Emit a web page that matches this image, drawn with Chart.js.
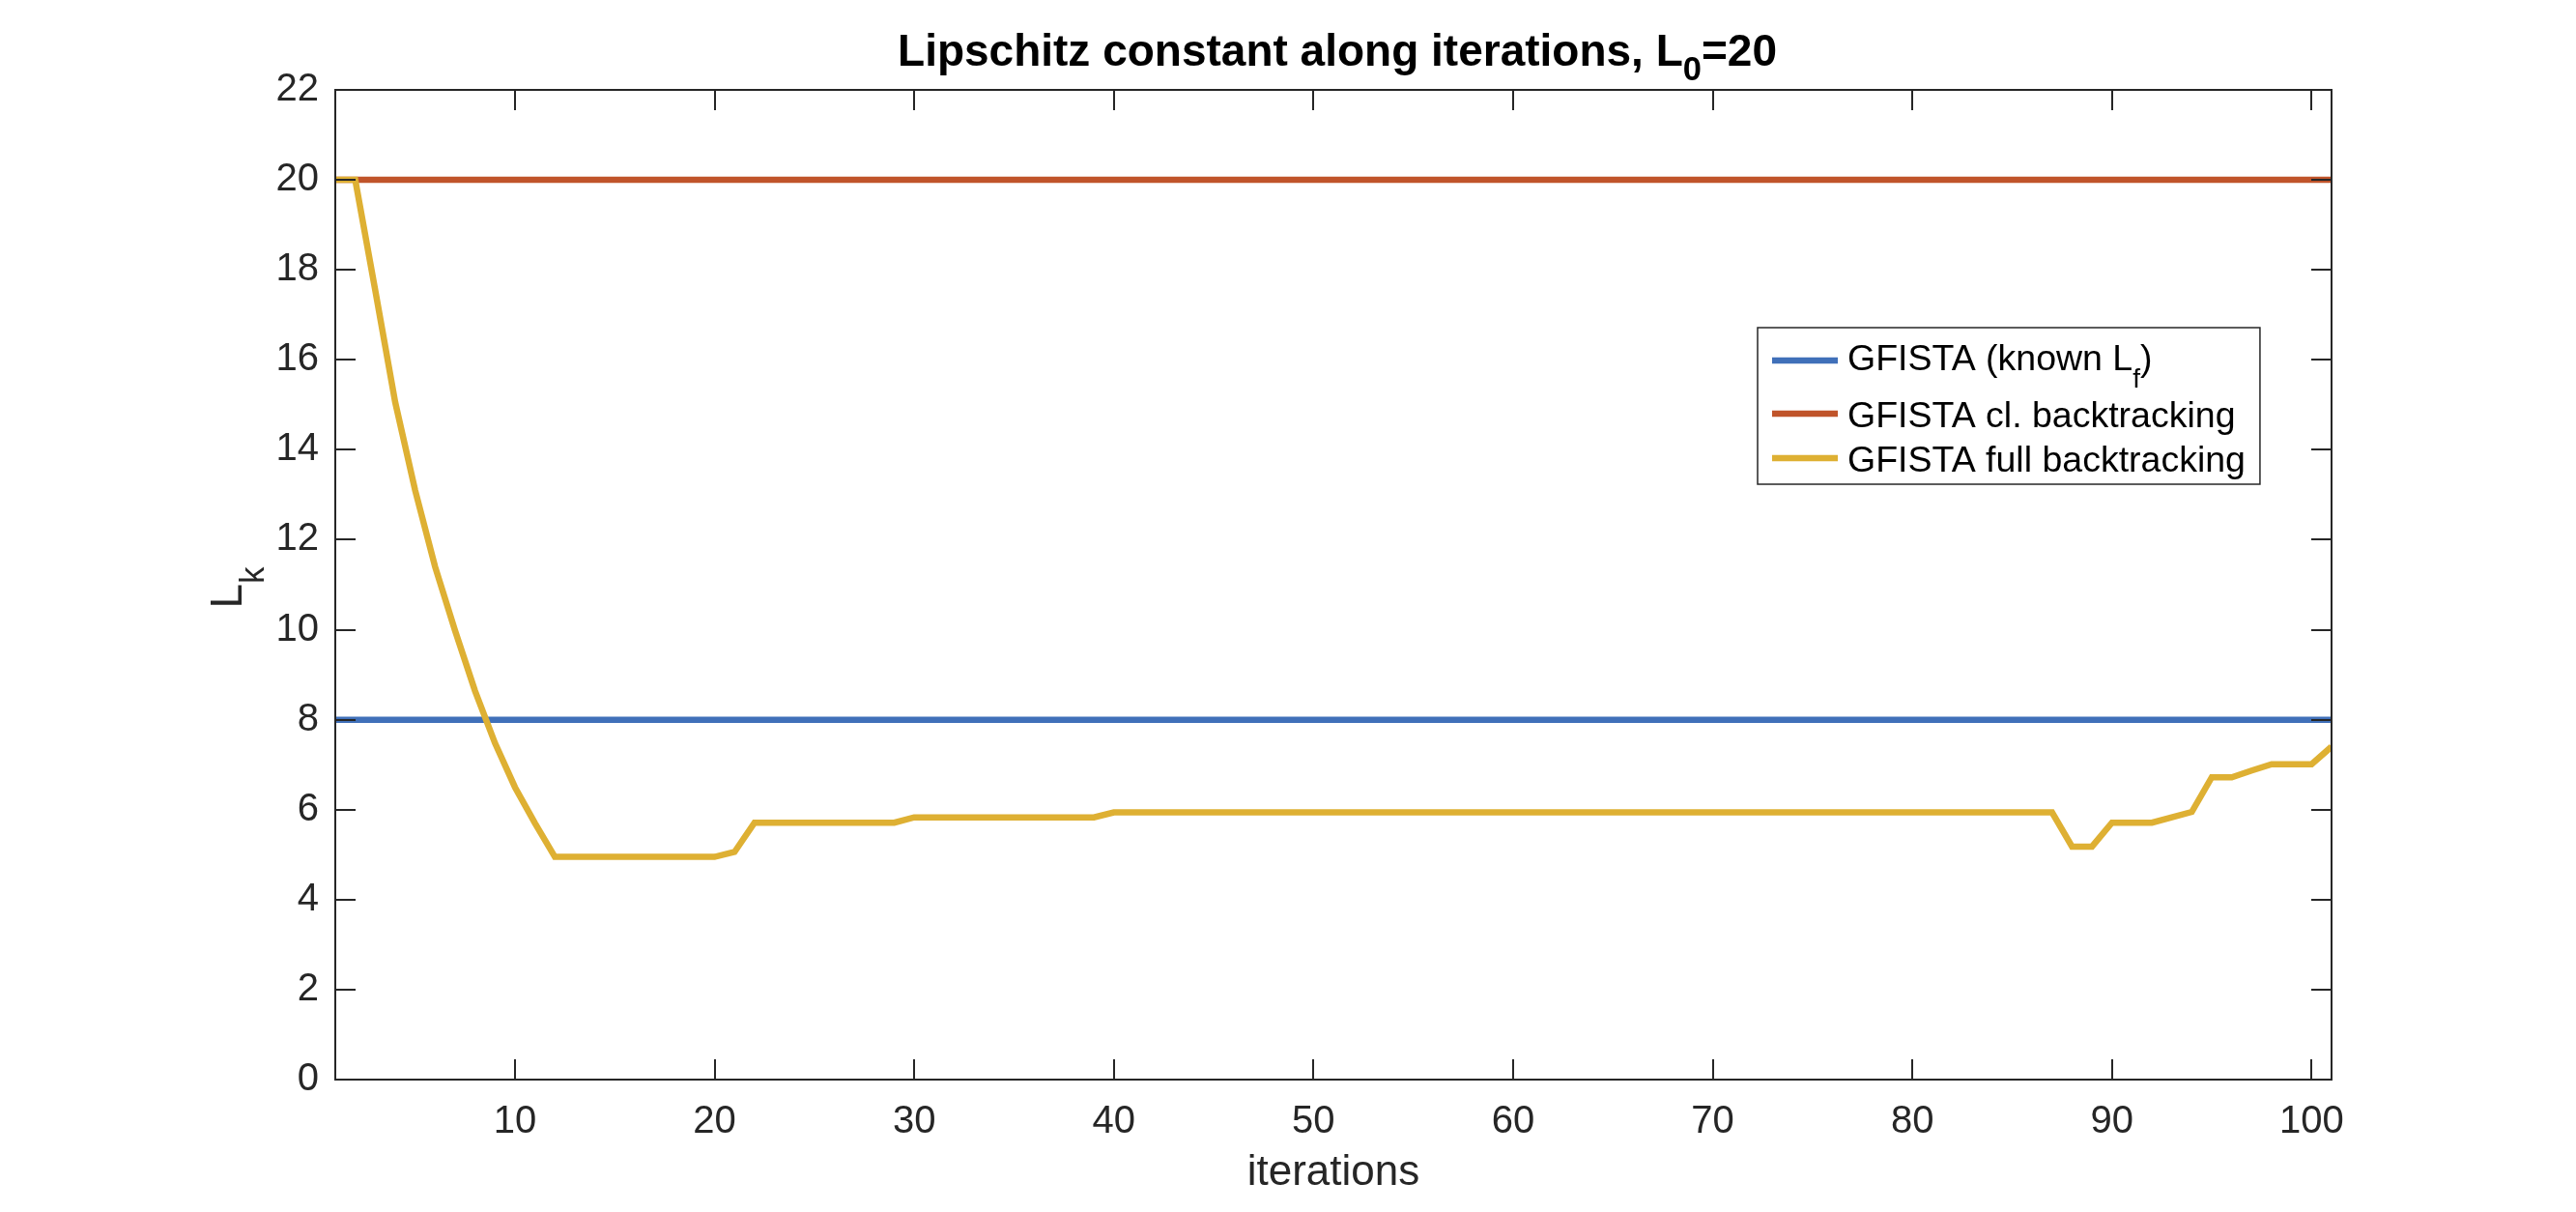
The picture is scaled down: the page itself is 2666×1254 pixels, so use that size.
<!DOCTYPE html>
<html>
<head>
<meta charset="utf-8">
<script src="https://cdn.jsdelivr.net/npm/chart.js@4.4.1/dist/chart.umd.min.js"></script>
<style>
html,body{margin:0;padding:0;background:#ffffff;overflow:hidden}
#wrap{width:2666px;height:1254px;position:relative;background:#ffffff}
</style>
</head>
<body>
<div id="wrap"><canvas id="c" width="2666" height="1254"></canvas></div>
<script>
// ---------------- data ----------------
const titleText = 'Lipschitz constant along iterations, L_0=20';
const xAxisTitle = 'iterations';
const yAxisTitle = 'L_k';

const seriesLabels = ['GFISTA (known L_f)', 'GFISTA cl. backtracking', 'GFISTA full backtracking'];

const iterations = [
  1,2,3,4,5,6,7,8,9,10,
  11,12,13,14,15,16,17,18,19,20,
  21,22,23,24,25,26,27,28,29,30,
  31,32,33,34,35,36,37,38,39,40,
  41,42,43,44,45,46,47,48,49,50,
  51,52,53,54,55,56,57,58,59,60,
  61,62,63,64,65,66,67,68,69,70,
  71,72,73,74,75,76,77,78,79,80,
  81,82,83,84,85,86,87,88,89,90,
  91,92,93,94,95,96,97,98,99,100,
  101
];

const knownLf = [
  8,8,8,8,8,8,8,8,8,8,
  8,8,8,8,8,8,8,8,8,8,
  8,8,8,8,8,8,8,8,8,8,
  8,8,8,8,8,8,8,8,8,8,
  8,8,8,8,8,8,8,8,8,8,
  8,8,8,8,8,8,8,8,8,8,
  8,8,8,8,8,8,8,8,8,8,
  8,8,8,8,8,8,8,8,8,8,
  8,8,8,8,8,8,8,8,8,8,
  8,8,8,8,8,8,8,8,8,8,
  8
];

const classicBacktracking = [
  20,20,20,20,20,20,20,20,20,20,
  20,20,20,20,20,20,20,20,20,20,
  20,20,20,20,20,20,20,20,20,20,
  20,20,20,20,20,20,20,20,20,20,
  20,20,20,20,20,20,20,20,20,20,
  20,20,20,20,20,20,20,20,20,20,
  20,20,20,20,20,20,20,20,20,20,
  20,20,20,20,20,20,20,20,20,20,
  20,20,20,20,20,20,20,20,20,20,
  20,20,20,20,20,20,20,20,20,20,
  20
];

const fullBacktracking = [
  20,20,17.55,15.06,13.1,11.4,9.98,8.64,7.48,6.5,
  5.7,4.95,4.95,4.95,4.95,4.95,4.95,4.95,4.95,4.95,
  5.06,5.71,5.71,5.71,5.71,5.71,5.71,5.71,5.71,5.83,
  5.83,5.83,5.83,5.83,5.83,5.83,5.83,5.83,5.83,5.94,
  5.94,5.94,5.94,5.94,5.94,5.94,5.94,5.94,5.94,5.94,
  5.94,5.94,5.94,5.94,5.94,5.94,5.94,5.94,5.94,5.94,
  5.94,5.94,5.94,5.94,5.94,5.94,5.94,5.94,5.94,5.94,
  5.94,5.94,5.94,5.94,5.94,5.94,5.94,5.94,5.94,5.94,
  5.94,5.94,5.94,5.94,5.94,5.94,5.94,5.18,5.18,5.71,
  5.71,5.71,5.83,5.95,6.72,6.72,6.87,7.01,7.01,7.01,
  7.4
];

const xTickValues = [10,20,30,40,50,60,70,80,90,100];
const yTickValues = [0,2,4,6,8,10,12,14,16,18,20,22];
const xRange = [1, 101];
const yRange = [0, 22];

// ---------------- style ----------------
const FONT = "'Liberation Sans', Arial, Helvetica, sans-serif";
const seriesColors = ['#4070B9', '#C0542A', '#DEB033'];
const AXIS_COLOR = '#262626';
const LINE_W = 6.5;

// ---------------- helpers for TeX-like subscripts ----------------
function parseRich(s) {
  const out = []; let buf = ''; let i = 0;
  while (i < s.length) {
    if (s[i] === '_') {
      if (buf) { out.push({ t: buf, sub: false }); buf = ''; }
      let sub;
      if (s[i + 1] === '{') { const j = s.indexOf('}', i); sub = s.slice(i + 2, j); i = j + 1; }
      else { sub = s[i + 1]; i += 2; }
      out.push({ t: sub, sub: true });
    } else { buf += s[i]; i++; }
  }
  if (buf) out.push({ t: buf, sub: false });
  return out;
}
function richWidth(ctx, segs, size, weight, subScale) {
  let w = 0;
  for (const g of segs) {
    ctx.font = `${weight} ${g.sub ? size * subScale : size}px ${FONT}`;
    w += ctx.measureText(g.t).width;
  }
  return w;
}
function drawRich(ctx, segs, x, y, size, weight, subScale, subShift) {
  ctx.textBaseline = 'alphabetic';
  ctx.textAlign = 'left';
  for (const g of segs) {
    const fs = g.sub ? size * subScale : size;
    ctx.font = `${weight} ${fs}px ${FONT}`;
    ctx.fillText(g.t, x, g.sub ? y + size * subShift : y);
    x += ctx.measureText(g.t).width;
  }
}

// ---------------- plugin: MATLAB-like axes box, inner ticks, titles, legend ----------------
const matlabDecor = {
  id: 'matlabDecor',
  afterDraw(chart) {
    const ctx = chart.ctx;
    const ca = chart.chartArea;
    const xs = chart.scales.x, ys = chart.scales.y;
    ctx.save();
    // inner ticks on all four sides
    ctx.strokeStyle = AXIS_COLOR;
    ctx.lineWidth = 2;
    const TL = 21;
    ctx.beginPath();
    for (const t of xs.ticks) {
      const px = Math.round(xs.getPixelForValue(t.value));
      ctx.moveTo(px, ca.bottom); ctx.lineTo(px, ca.bottom - TL);
      ctx.moveTo(px, ca.top); ctx.lineTo(px, ca.top + TL);
    }
    for (const t of ys.ticks) {
      const py = Math.round(ys.getPixelForValue(t.value));
      ctx.moveTo(ca.left, py); ctx.lineTo(ca.left + TL, py);
      ctx.moveTo(ca.right, py); ctx.lineTo(ca.right - TL, py);
    }
    ctx.stroke();
    // box
    ctx.strokeRect(ca.left, ca.top, ca.right - ca.left, ca.bottom - ca.top);

    // title
    ctx.fillStyle = '#000000';
    const tSegs = parseRich(titleText);
    const tSize = 46, tSub = 0.75;
    const tw = richWidth(ctx, tSegs, tSize, 'bold', tSub);
    drawRich(ctx, tSegs, (ca.left + ca.right) / 2 - tw / 2 + 4, 68, tSize, 'bold', tSub, 0.33);

    // x axis title
    ctx.fillStyle = AXIS_COLOR;
    const xSegs = parseRich(xAxisTitle);
    const xw = richWidth(ctx, xSegs, 44, 'normal', 0.75);
    drawRich(ctx, xSegs, (ca.left + ca.right) / 2 - xw / 2, 1226, 44, 'normal', 0.75, 0.45);

    // y axis title (rotated)
    const ySegs = parseRich(yAxisTitle);
    const yw = richWidth(ctx, ySegs, 46, 'normal', 0.75);
    ctx.save();
    ctx.translate(250, (ca.top + ca.bottom) / 2 + 3);
    ctx.rotate(-Math.PI / 2);
    drawRich(ctx, ySegs, -yw / 2, 0, 46, 'normal', 0.75, 0.5);
    ctx.restore();

    // legend
    const LS = 37.5, subS = 0.75;
    const items = chart.data.datasets.map((d, i) => ({ segs: parseRich(seriesLabels[i]), color: d.borderColor, hasSub: /_/.test(seriesLabels[i]) }));
    let maxW = 0;
    for (const it of items) maxW = Math.max(maxW, richWidth(ctx, it.segs, LS, 'normal', subS));
    const TX = 93;
    const boxW = TX + maxW + 15;
    const rowH = items.map(it => it.hasSub ? 64 : 46);
    const boxH = rowH.reduce((a, b) => a + b, 0) + 6;
    const bx = ca.right - 594, by = ca.top + 246;
    ctx.fillStyle = '#ffffff';
    ctx.fillRect(bx, by, boxW, boxH);
    ctx.strokeStyle = AXIS_COLOR;
    ctx.lineWidth = 1.5;
    ctx.strokeRect(bx, by, boxW, boxH);
    let acc = by + 2;
    items.forEach((it, i) => {
      const cy = acc + rowH[i] / 2;
      acc += rowH[i];
      ctx.strokeStyle = it.color;
      ctx.lineWidth = LINE_W;
      ctx.beginPath();
      ctx.moveTo(bx + 15, cy); ctx.lineTo(bx + 83, cy);
      ctx.stroke();
      ctx.fillStyle = '#000000';
      drawRich(ctx, it.segs, bx + TX, cy + 0.37 * LS - (it.hasSub ? 4 : 0), LS, 'normal', subS, 0.47);
    });
    ctx.restore();
  }
};

// ---------------- chart ----------------
function series(values) { return iterations.map((it, i) => ({ x: it, y: values[i] })); }

new Chart(document.getElementById('c'), {
  type: 'line',
  data: {
    datasets: [
      { label: seriesLabels[0], data: series(knownLf), borderColor: seriesColors[0], backgroundColor: seriesColors[0], borderWidth: LINE_W, pointRadius: 0, tension: 0, fill: false, order: 2 },
      { label: seriesLabels[1], data: series(classicBacktracking), borderColor: seriesColors[1], backgroundColor: seriesColors[1], borderWidth: LINE_W, pointRadius: 0, tension: 0, fill: false, order: 1 },
      { label: seriesLabels[2], data: series(fullBacktracking), borderColor: seriesColors[2], backgroundColor: seriesColors[2], borderWidth: LINE_W, pointRadius: 0, tension: 0, fill: false, order: 0 }
    ]
  },
  options: {
    responsive: false,
    devicePixelRatio: 1,
    animation: false,
    layout: { padding: { top: 93, right: 253, left: 0, bottom: 0 } },
    plugins: { legend: { display: false }, title: { display: false }, tooltip: { enabled: false } },
    scales: {
      x: {
        type: 'linear', min: xRange[0], max: xRange[1],
        grid: { display: false, drawTicks: false }, border: { display: false },
        afterBuildTicks: s => { s.ticks = xTickValues.map(v => ({ value: v })); },
        afterFit: s => { s.height = 137; },
        ticks: { font: { family: FONT, size: 40 }, color: AXIS_COLOR, padding: 20, maxRotation: 0, autoSkip: false }
      },
      y: {
        type: 'linear', min: yRange[0], max: yRange[1],
        grid: { display: false, drawTicks: false }, border: { display: false },
        afterBuildTicks: s => { s.ticks = yTickValues.map(v => ({ value: v })); },
        afterFit: s => { s.width = 347; },
        ticks: { font: { family: FONT, size: 40 }, color: AXIS_COLOR, padding: 17, autoSkip: false }
      }
    }
  },
  plugins: [matlabDecor]
});
</script>
</body>
</html>
